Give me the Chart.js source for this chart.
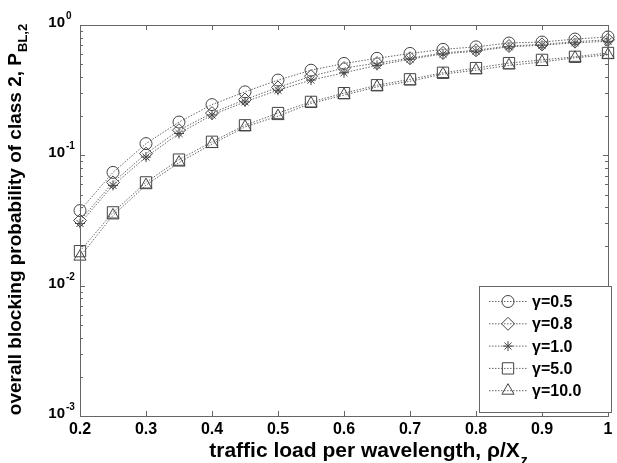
<!DOCTYPE html>
<html>
<head>
<meta charset="utf-8">
<script src="https://cdn.jsdelivr.net/npm/chart.js@4/dist/chart.umd.min.js"></script>
<style>
  html, body { margin: 0; padding: 0; background: #fff; }
  #wrap { width: 617px; height: 463px; }
</style>
</head>
<body>
<div id="wrap"><canvas id="chart" width="617" height="463"></canvas></div>
<script>
// traffic load per wavelength (x axis)
const loads = [0.2, 0.25, 0.3, 0.35, 0.4, 0.45, 0.5, 0.55, 0.6, 0.65, 0.7, 0.75, 0.8, 0.85, 0.9, 0.95, 1.0];

// overall blocking probability of class 2, one array per gamma
const gamma05 = [0.0377, 0.074, 0.123, 0.180, 0.245, 0.307, 0.378, 0.450, 0.507, 0.555, 0.605, 0.650, 0.680, 0.727, 0.740, 0.780, 0.810];
const gamma08 = [0.0316, 0.062, 0.103, 0.156, 0.211, 0.268, 0.332, 0.405, 0.467, 0.510, 0.556, 0.610, 0.640, 0.690, 0.710, 0.745, 0.770];
const gamma10 = [0.0300, 0.0588, 0.097, 0.147, 0.204, 0.257, 0.316, 0.378, 0.430, 0.490, 0.547, 0.600, 0.630, 0.680, 0.700, 0.730, 0.750];
const gamma50 = [0.0184, 0.0365, 0.062, 0.0927, 0.127, 0.170, 0.211, 0.257, 0.300, 0.345, 0.383, 0.430, 0.467, 0.510, 0.540, 0.570, 0.610];
const gamma100 = [0.0167, 0.0346, 0.059, 0.088, 0.122, 0.165, 0.200, 0.250, 0.290, 0.335, 0.370, 0.420, 0.450, 0.490, 0.520, 0.560, 0.590];

const seriesLabels = ["γ=0.5", "γ=0.8", "γ=1.0", "γ=5.0", "γ=10.0"];
const xTicks = [0.2, 0.3, 0.4, 0.5, 0.6, 0.7, 0.8, 0.9, 1];
const yDecades = [0, -1, -2, -3];

const FONT = "'Liberation Sans', Arial, sans-serif";
const AXIS_COLOR = "#666";

function makeSet(label, values, style, radius) {
  return {
    label: label,
    data: loads.map((x, i) => ({ x: x, y: values[i] })),
    borderColor: "#666",
    borderWidth: 1,
    borderDash: [1.5, 1.5],
    pointStyle: style,
    pointRadius: radius,
    pointBorderColor: "#444",
    pointBorderWidth: 1,
    pointBackgroundColor: "rgba(0,0,0,0)",
    backgroundColor: "rgba(0,0,0,0)",
    tension: 0,
    clip: false,
    fill: false,
  };
}

const datasets = [
  makeSet(seriesLabels[0], gamma05, "circle", 6),
  makeSet(seriesLabels[1], gamma08, "rectRot", 6.5),
  makeSet(seriesLabels[2], gamma10, "star", 5),
  makeSet(seriesLabels[3], gamma50, "rect", 8),
  makeSet(seriesLabels[4], gamma100, "triangle", 7),
];

// draws the matlab-like box, inward ticks, labels, titles and legend
const matlabAxes = {
  id: "matlabAxes",
  afterDraw(chart) {
    const ctx = chart.ctx;
    const a = chart.chartArea;
    const xs = chart.scales.x;
    const ys = chart.scales.y;
    ctx.save();

    // box
    ctx.strokeStyle = AXIS_COLOR;
    ctx.lineWidth = 1;
    ctx.strokeRect(a.left + 0.5, a.top + 0.5, a.right - a.left, a.bottom - a.top);

    // x ticks
    ctx.beginPath();
    xTicks.forEach((v) => {
      const px = Math.round(xs.getPixelForValue(v)) + 0.5;
      ctx.moveTo(px, a.bottom); ctx.lineTo(px, a.bottom - 5);
      ctx.moveTo(px, a.top); ctx.lineTo(px, a.top + 5);
    });
    // y ticks (major + minor)
    yDecades.forEach((d) => {
      for (let m = 1; m <= 9; m++) {
        const v = m * Math.pow(10, d);
        if (v > 1.0001 || v < 0.001) continue;
        const py = Math.round(ys.getPixelForValue(v)) + 0.5;
        const len = m === 1 ? 5 : 3;
        ctx.moveTo(a.left, py); ctx.lineTo(a.left + len, py);
        ctx.moveTo(a.right, py); ctx.lineTo(a.right - len, py);
      }
    });
    ctx.stroke();

    // x tick labels
    ctx.fillStyle = "#000";
    ctx.font = "bold 16px " + FONT;
    ctx.textAlign = "center";
    ctx.textBaseline = "middle";
    xTicks.forEach((v) => {
      ctx.fillText(String(v), xs.getPixelForValue(v), a.bottom + 14);
    });

    // y tick labels 10^n
    yDecades.forEach((d) => {
      const py = ys.getPixelForValue(Math.pow(10, d));
      ctx.font = "bold 15px " + FONT;
      ctx.textAlign = "right";
      ctx.textBaseline = "middle";
      ctx.fillText("10", 65, py - 2);
      ctx.font = "bold 10px " + FONT;
      ctx.textAlign = "left";
      ctx.textBaseline = "alphabetic";
      ctx.fillText(String(d), 66, py - 6);
    });

    // x title with subscript
    const xMain = "traffic load per wavelength, ρ/X";
    ctx.font = "bold 21px " + FONT;
    const wMain = ctx.measureText(xMain).width;
    ctx.font = "bold 14px " + FONT;
    const wSub = ctx.measureText("z").width;
    let sx = 368 - (wMain + wSub) / 2;
    ctx.textAlign = "left";
    ctx.textBaseline = "alphabetic";
    ctx.font = "bold 21px " + FONT;
    ctx.fillText(xMain, sx, 457);
    ctx.font = "bold 14px " + FONT;
    ctx.fillText("z", sx + wMain + 1, 465);

    // y title rotated with subscript
    const yMain = "overall blocking probability of class 2, P";
    ctx.save();
    ctx.translate(21, 220);
    ctx.rotate(-Math.PI / 2);
    ctx.font = "bold 19px " + FONT;
    const wy = ctx.measureText(yMain).width;
    ctx.font = "bold 13px " + FONT;
    const wys = ctx.measureText("BL,2").width;
    const sy = -(wy + wys) / 2;
    ctx.font = "bold 19px " + FONT;
    ctx.fillText(yMain, sy, 0);
    ctx.font = "bold 13px " + FONT;
    ctx.fillText("BL,2", sy + wy + 1, 6);
    ctx.restore();

    // legend
    const lx = 479, ly = 286, lw = 132, lh = 126;
    ctx.fillStyle = "#fff";
    ctx.fillRect(lx, ly, lw, lh);
    ctx.strokeStyle = AXIS_COLOR;
    ctx.strokeRect(lx + 0.5, ly + 0.5, lw, lh);
    chart.data.datasets.forEach((ds, i) => {
      const y = ly + 15.5 + i * 22.3;
      ctx.strokeStyle = ds.borderColor;
      ctx.setLineDash(ds.borderDash);
      ctx.beginPath();
      ctx.moveTo(489, y); ctx.lineTo(527, y);
      ctx.stroke();
      ctx.setLineDash([]);
      ctx.strokeStyle = ds.pointBorderColor;
      ctx.fillStyle = "rgba(0,0,0,0)";
      ctx.lineWidth = 1;
      Chart.helpers.drawPoint(ctx, { pointStyle: ds.pointStyle, radius: ds.pointRadius, rotation: 0, borderWidth: 1 }, 508, y);
      ctx.fillStyle = "#000";
      ctx.font = "bold 16px " + FONT;
      ctx.textAlign = "left";
      ctx.textBaseline = "middle";
      ctx.fillText(ds.label, 532, y + 1);
    });

    ctx.restore();
  },
};

new Chart(document.getElementById("chart"), {
  type: "line",
  data: { datasets: datasets },
  options: {
    responsive: false,
    animation: false,
    layout: { padding: { left: 80, top: 25, right: 4, bottom: 47 } },
    plugins: { legend: { display: false }, tooltip: { enabled: false } },
    scales: {
      x: { type: "linear", min: 0.2, max: 1, display: false },
      y: { type: "logarithmic", min: 0.001, max: 1, display: false },
    },
  },
  plugins: [matlabAxes],
});
</script>
</body>
</html>
